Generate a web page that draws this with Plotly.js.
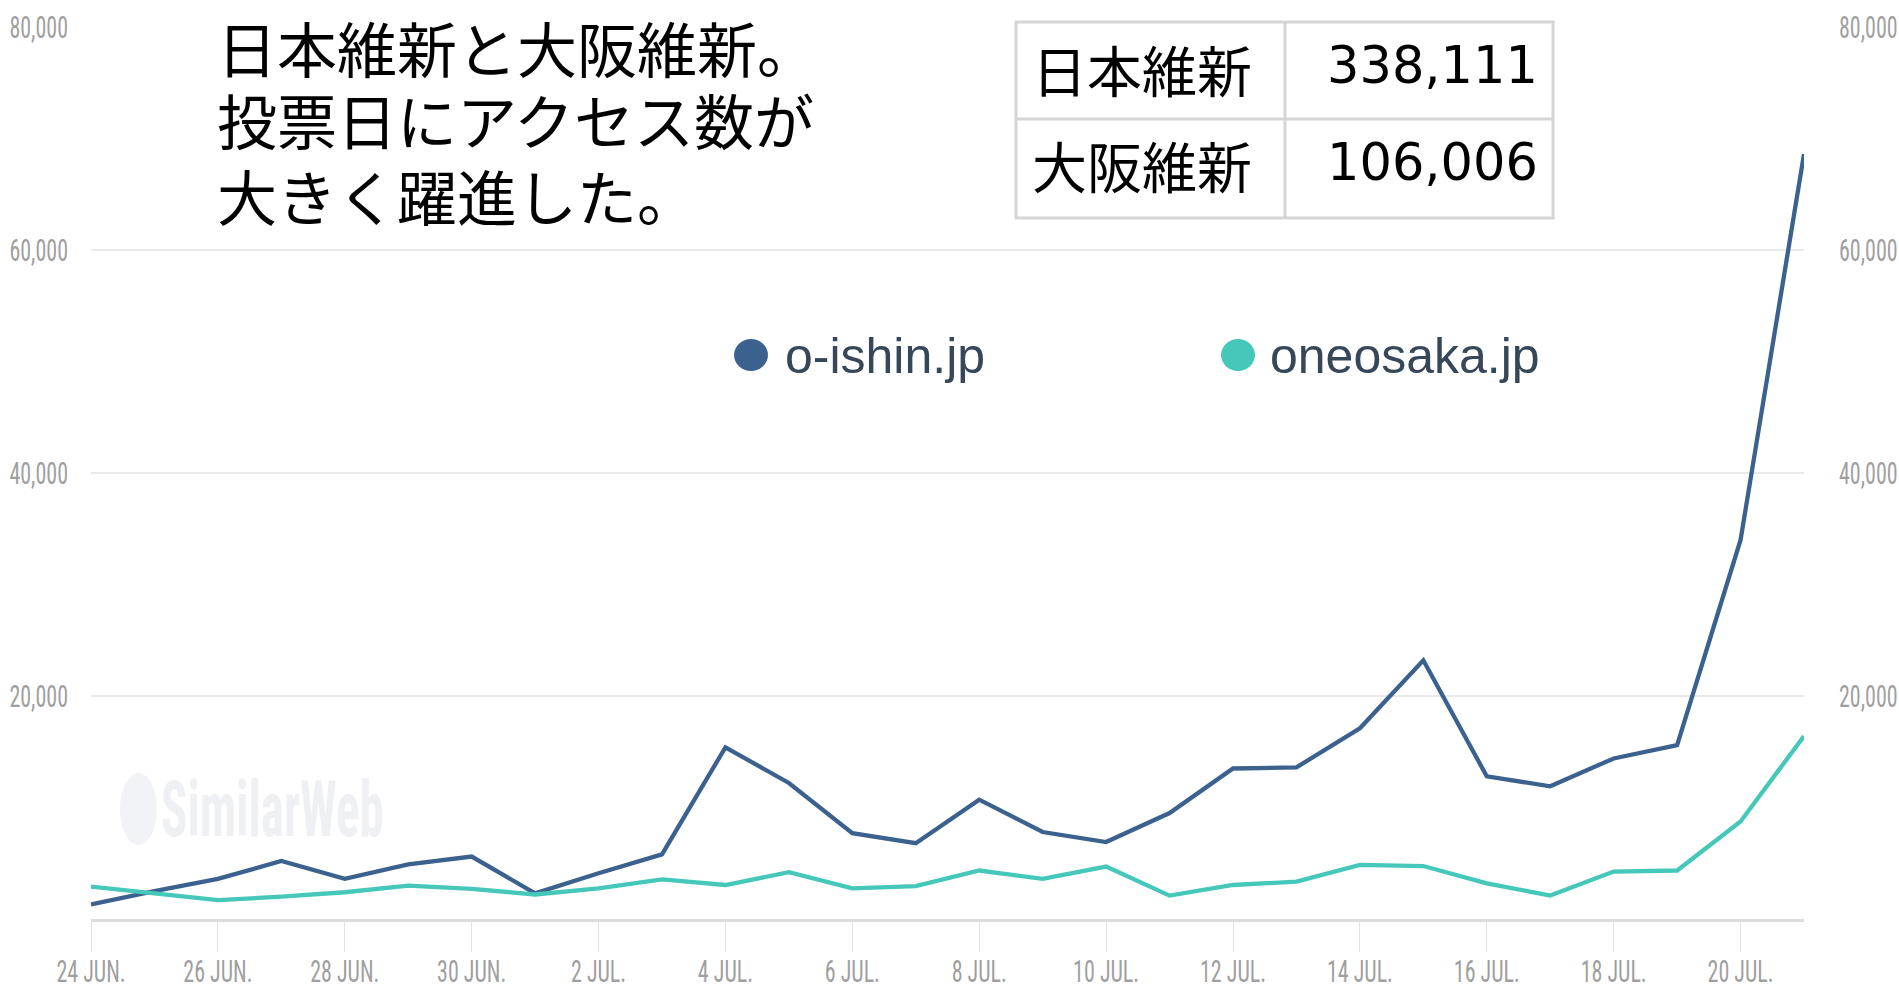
<!DOCTYPE html>
<html>
<head>
<meta charset="utf-8">
<script src="https://cdn.plot.ly/plotly-3.0.1.min.js"></script>
<style>
  html, body { margin: 0; padding: 0; background: #ffffff; }
  #chart { width: 1899px; height: 989px; }
</style>
</head>
<body>
<div id="chart"></div>
<script>
// ---- data ----
const dates = [
  '2019-06-24','2019-06-25','2019-06-26','2019-06-27','2019-06-28','2019-06-29','2019-06-30',
  '2019-07-01','2019-07-02','2019-07-03','2019-07-04','2019-07-05','2019-07-06','2019-07-07',
  '2019-07-08','2019-07-09','2019-07-10','2019-07-11','2019-07-12','2019-07-13','2019-07-14',
  '2019-07-15','2019-07-16','2019-07-17','2019-07-18','2019-07-19','2019-07-20','2019-07-21'
];
const oishin = [1300, 2500, 3600, 5200, 3600, 4900, 5600, 2300, 4100, 5800, 15400, 12200, 7700, 6800,
                10700, 7800, 6900, 9500, 13500, 13600, 17100, 23200, 12800, 11900, 14400, 15600, 34000, 68600];
const oneosaka = [2900, 2300, 1700, 2000, 2400, 3000, 2700, 2200, 2750, 3550, 3050, 4200, 2750, 2950,
                  4350, 3600, 4700, 2100, 3050, 3350, 4850, 4750, 3200, 2100, 4250, 4350, 8750, 16400];
const seriesNames = ['o-ishin.jp', 'oneosaka.jp'];
const seriesColors = ['#3b618e', '#45c8b9'];

const xTickVals = ['2019-06-24','2019-06-26','2019-06-28','2019-06-30','2019-07-02','2019-07-04','2019-07-06',
                   '2019-07-08','2019-07-10','2019-07-12','2019-07-14','2019-07-16','2019-07-18','2019-07-20'];
const xTickLabels = ['24 JUN.','26 JUN.','28 JUN.','30 JUN.','2 JUL.','4 JUL.','6 JUL.',
                     '8 JUL.','10 JUL.','12 JUL.','14 JUL.','16 JUL.','18 JUL.','20 JUL.'];
const yTickVals = [20000, 40000, 60000, 80000];
const yTickLabels = ['20,000', '40,000', '60,000', '80,000'];

const noteLines = ['日本維新と大阪維新。', '投票日にアクセス数が', '大きく躍進した。'];
const tableLabels = ['日本維新', '大阪維新'];
const tableValues = ['338,111', '106,006'];
const watermark = 'SimilarWeb';

// ---- layout helpers (pixel -> paper) ----
const W = 1899, H = 989;
const M = {l: 91, r: 95, t: 27, b: 70};
const PW = W - M.l - M.r, PH = H - M.t - M.b;
const px = v => (v - M.l) / PW;
const py = v => (H - M.b - v) / PH;

const narrow = '"Liberation Sans Narrow", "Arial Narrow", "Roboto Condensed", sans-serif';
const jp = '"Noto Sans CJK JP", "Noto Sans", sans-serif';
const tickFont = {family: narrow, size: 22, color: '#9f9f9f'};

const traces = [
  {x: dates, y: oishin, name: seriesNames[0], type: 'scatter', mode: 'lines',
   line: {color: seriesColors[0], width: 4.3}, hoverinfo: 'skip'},
  {x: dates, y: oneosaka, name: seriesNames[1], type: 'scatter', mode: 'lines',
   line: {color: seriesColors[1], width: 4.3}, hoverinfo: 'skip'},
  // invisible carrier so the right-hand axis is drawn
  {x: dates, y: oishin, yaxis: 'y2', type: 'scatter', mode: 'lines',
   line: {width: 0}, opacity: 0, hoverinfo: 'skip', showlegend: false}
];

const annotations = [];
const shapes = [];

// note text (top-left)
const noteY = [46, 119, 194];
noteLines.forEach((t, i) => {
  annotations.push({xref: 'paper', yref: 'paper', x: px(216), y: py(noteY[i]),
    xanchor: 'left', yanchor: 'middle', text: t, showarrow: false,
    bgcolor: i === 0 ? '#ffffff' : 'rgba(0,0,0,0)', borderpad: 0,
    font: {family: jp, size: 60, color: '#000000'}});
});

// table
const tb = {x0: 1016, x1: 1553, xm: 1285, y0: 22, y1: 218, ym: 119};
shapes.push({type: 'rect', xref: 'paper', yref: 'paper', layer: 'above',
  x0: px(tb.x0), x1: px(tb.x1), y0: py(tb.y1), y1: py(tb.y0),
  fillcolor: '#ffffff', line: {color: '#d5d5d5', width: 3}});
shapes.push({type: 'line', xref: 'paper', yref: 'paper', layer: 'above',
  x0: px(tb.xm), x1: px(tb.xm), y0: py(tb.y1), y1: py(tb.y0), line: {color: '#d5d5d5', width: 3}});
shapes.push({type: 'line', xref: 'paper', yref: 'paper', layer: 'above',
  x0: px(tb.x0), x1: px(tb.x1), y0: py(tb.ym), y1: py(tb.ym), line: {color: '#d5d5d5', width: 3}});
const rowY = [68, 164];
tableLabels.forEach((t, i) => {
  annotations.push({xref: 'paper', yref: 'paper', x: px(1142), y: py(rowY[i]),
    xanchor: 'center', yanchor: 'middle', text: t, showarrow: false,
    font: {family: jp, size: 55, color: '#000000'}});
  annotations.push({xref: 'paper', yref: 'paper', x: px(1540), y: py(rowY[i] - 2),
    xanchor: 'right', yanchor: 'middle', text: tableValues[i], showarrow: false,
    font: {family: '"DejaVu Sans", Verdana, sans-serif', size: 51, color: '#000000'}});
});

// legend (dot + label)
const legX = [751, 1238], legTextX = [783, 1268], legY = 355;
seriesNames.forEach((n, i) => {
  shapes.push({type: 'circle', xref: 'paper', yref: 'paper', xsizemode: 'pixel', ysizemode: 'pixel',
    xanchor: px(legX[i]), yanchor: py(legY), x0: -17, x1: 17, y0: -16, y1: 16,
    fillcolor: seriesColors[i], line: {width: 0}, layer: 'above'});
  annotations.push({xref: 'paper', yref: 'paper', x: px(legTextX[i]), y: py(legY + 1),
    xanchor: 'left', yanchor: 'middle', text: n, showarrow: false,
    font: {family: '"Liberation Sans", Arial, sans-serif', size: 50, color: '#37475a'}});
});

// watermark
shapes.push({type: 'circle', xref: 'paper', yref: 'paper', layer: 'below',
  x0: px(120), x1: px(157), y0: py(845), y1: py(773),
  fillcolor: '#f1f3f6', line: {width: 0}});
annotations.push({xref: 'paper', yref: 'paper', x: px(159), y: py(809),
  xanchor: 'left', yanchor: 'middle', text: watermark, showarrow: false,
  font: {family: narrow, size: 49, color: '#eef0f4', weight: 'bold'}});

const layout = {
  width: W, height: H,
  margin: M,
  paper_bgcolor: '#ffffff', plot_bgcolor: '#ffffff',
  showlegend: false, hovermode: false,
  xaxis: {
    type: 'date', range: [dates[0], dates[dates.length - 1]],
    tickmode: 'array', tickvals: xTickVals, ticktext: xTickLabels,
    ticks: 'outside', ticklen: 30, tickwidth: 1, tickcolor: '#e2e2e2',
    showline: true, linecolor: '#dcdcdc', linewidth: 3,
    showgrid: false, zeroline: false, tickfont: tickFont, fixedrange: true
  },
  yaxis: {
    range: [0, 80000], tickmode: 'array', tickvals: yTickVals, ticktext: yTickLabels,
    showgrid: true, gridcolor: '#e9e9e9', gridwidth: 2.5, zeroline: false,
    ticks: '', ticklabelstandoff: 22, tickfont: tickFont, fixedrange: true
  },
  yaxis2: {
    overlaying: 'y', side: 'right', range: [0, 80000], tickmode: 'array',
    tickvals: yTickVals, ticktext: yTickLabels, showgrid: false, zeroline: false,
    ticks: '', ticklabelstandoff: 34, tickfont: tickFont, fixedrange: true
  },
  shapes: shapes,
  annotations: annotations
};

function stretch(nodes, s) {
  nodes.forEach(t => {
    const bb = t.getBBox();
    const cy = bb.y + bb.height / 2;
    const prev = t.getAttribute('transform') || '';
    t.setAttribute('transform', prev + ' translate(0,' + cy + ') scale(1,' + s + ') translate(0,' + (-cy) + ')');
  });
}

Plotly.newPlot('chart', traces, layout, {staticPlot: true, displayModeBar: false}).then(gd => {
  stretch(gd.querySelectorAll('.xtick text, .ytick text, .y2tick text'), 1.45);
  const ann = Array.from(gd.querySelectorAll('.annotation-text-g text')).filter(t => t.textContent === watermark);
  stretch(ann, 1.6);
});
</script>
</body>
</html>
